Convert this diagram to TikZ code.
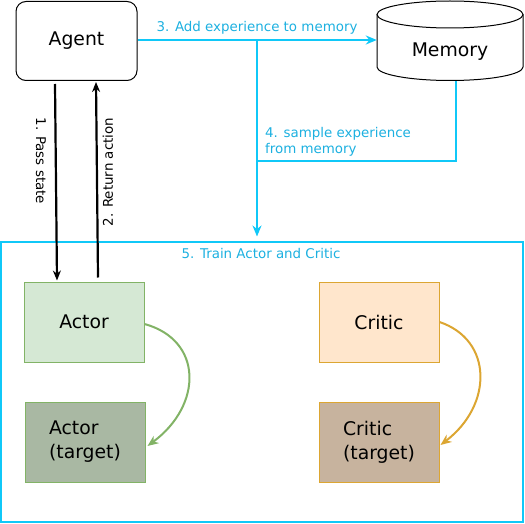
\documentclass[tikz,border=0pt]{standalone}
\usepackage{fontspec}
\setmainfont{DejaVu Sans}
\usetikzlibrary{arrows.meta}
\definecolor{cyanl}{HTML}{10C8F8}
\definecolor{cyant}{HTML}{1CB0E0}
\definecolor{actf}{HTML}{D5E8D4}
\definecolor{actd}{HTML}{82B366}
\definecolor{acttf}{HTML}{A9B8A3}
\definecolor{crif}{HTML}{FFE6CC}
\definecolor{crid}{HTML}{DCA632}
\definecolor{critf}{HTML}{C7B39E}
\tikzset{
  big/.style={font=\fontsize{18.8}{24}\selectfont},
  lbl/.style={font=\fontsize{13.4}{16.5}\selectfont, text=cyant, inner sep=0pt},
  blbl/.style={font=\fontsize{13.4}{16.5}\selectfont, text=black, inner sep=0pt},
  box/.style={big, rectangle, minimum width=120pt, minimum height=80pt, line width=1pt, align=left},
  cyarr/.style={draw=cyanl, line width=2pt, -{Stealth[length=11pt,width=9pt]}},
  cyln/.style={draw=cyanl, line width=2pt},
  blk/.style={draw=black, line width=2.2pt, -{Stealth[length=10pt,width=8pt]}},
}
\begin{document}
\begin{tikzpicture}[x=1pt,y=-1pt]
\useasboundingbox (0,0) rectangle (525,524);
% train box
\node[draw=cyanl, line width=2pt, minimum width=522pt, minimum height=280pt, inner sep=0pt] (train) at (262,381.5) {};
% agent
\node[big, draw=black, line width=1pt, rounded corners=10pt, minimum width=121pt, minimum height=79pt] (agent) at (76.5,41) {Agent};
% memory
\node[big, minimum width=146pt, minimum height=80pt, inner sep=0pt] (mem) at (450,41) {};
\draw[line width=1pt, fill=white] (377,14.5) -- (377,67) arc[start angle=180, end angle=0, x radius=73, y radius=13.5] -- (523,14.5);
\draw[line width=1pt] (450,14.5) ellipse[x radius=73, y radius=13.5];
\node[big] at (450,52) {Memory};
% actor/critic boxes
\node[box, draw=actd, fill=actf] (actor) at (84,322) {Actor};
\node[box, draw=actd, fill=acttf] (actort) at (85,442) {Actor\\(target)};
\node[box, draw=crid, fill=crif] (critic) at (379,322) {Critic};
\node[box, draw=crid, fill=critf] (critict) at (379,442) {Critic\\(target)};
% cyan connectors
\coordinate (j) at (257,40);
\coordinate (k) at (257,161);
\draw[cyarr] (agent.east |- j) -- (mem.west |- j);
\draw[cyln] ([xshift=6pt]mem.south) |- (k);
\draw[cyarr] (j) -- ([yshift=4pt]j |- train.north);
\node[lbl] (l3) at (257,27.5) {3. Add experience to memory};
\node[lbl, anchor=west, align=left] (l4) at (265,142) {4. sample experience\\from memory};
\node[lbl] (l5) at (261,254) {5. Train Actor and Critic};
% black arrows
\draw[blk] ([xshift=-21.5pt,yshift=-3pt]agent.south) -- ([xshift=-27pt,yshift=1pt]actor.north);
\draw[blk] ([xshift=14pt,yshift=4pt]actor.north) -- ([xshift=19.5pt,yshift=-1pt]agent.south);
\node[blbl, rotate=-90] (l1) at (41,161) {1. Pass state};
\node[blbl, rotate=90] (l2) at (108,172) {2. Return action};
% curved arrows
\draw[draw=actd, line width=2pt, -{Stealth[length=11pt,width=9pt]}] ([yshift=-2pt]actor.east) .. controls (203,340) and (203,405) .. ([xshift=2pt,yshift=-4pt]actort.east);
\draw[draw=crid, line width=2pt, -{Stealth[length=11pt,width=9pt]}] (critic.east) .. controls (493,340) and (493,405) .. ([xshift=1pt,yshift=-3pt]critict.east);
\end{tikzpicture}
\end{document}
